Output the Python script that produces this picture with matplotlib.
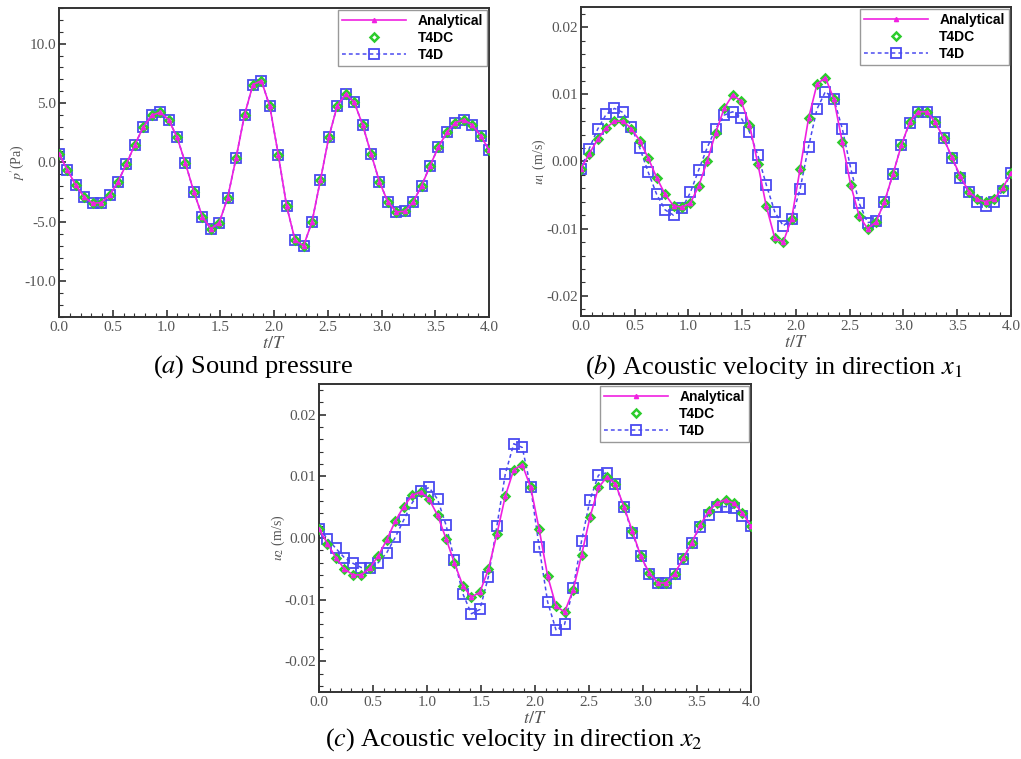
import matplotlib
matplotlib.use("Agg")
import matplotlib.pyplot as plt
from matplotlib.ticker import MultipleLocator, FormatStrFormatter
import numpy as np

plt.rcParams['font.family'] = ['Liberation Serif', 'DejaVu Serif']
plt.rcParams['mathtext.fontset'] = 'stix'
plt.rcParams['axes.unicode_minus'] = False

# sampling instants t/T
t = np.linspace(0.0, 4.0, 52)

# (a) sound pressure p' (Pa)
p_exact = [0.73, -0.64, -1.93, -2.93, -3.44, -3.38, -2.77, -1.62, -0.11, 1.51,
           2.99, 3.97, 4.22, 3.60, 2.12, -0.08, -2.49, -4.55, -5.59, -5.06,
           -2.96, 0.39, 4.00, 6.56, 6.87, 4.72, 0.67, -3.69, -6.56, -7.01,
           -5.00, -1.48, 2.15, 4.78, 5.75, 5.08, 3.18, 0.75, -1.62, -3.32,
           -4.16, -4.11, -3.32, -1.96, -0.28, 1.31, 2.54, 3.35, 3.58, 3.16,
           2.26, 1.03]
p_t4dc = p_exact
p_t4d = p_exact

# (b) acoustic velocity u1 (m/s)
u1_exact = [-0.0011, 0.0011, 0.0033, 0.0050, 0.0060, 0.0060, 0.0049, 0.0031, 0.0005, -0.0024,
            -0.0049, -0.0066, -0.0068, -0.0062, -0.0036, 0.0001, 0.0043, 0.0079, 0.0099, 0.0090,
            0.0055, -0.0004, -0.0067, -0.0114, -0.0120, -0.0085, -0.0011, 0.0064, 0.0115, 0.0125,
            0.0093, 0.0029, -0.0035, -0.0081, -0.0100, -0.0090, -0.0060, -0.0019, 0.0024, 0.0059,
            0.0074, 0.0074, 0.0059, 0.0035, 0.0006, -0.0022, -0.0045, -0.0056, -0.0060, -0.0056,
            -0.0040, -0.0017]
u1_t4dc = u1_exact
u1_t4d = [-0.0011, 0.0019, 0.0048, 0.0070, 0.0079, 0.0073, 0.0052, 0.0020, -0.0016, -0.0049,
          -0.0072, -0.0080, -0.0070, -0.0046, -0.0012, 0.0021, 0.0049, 0.0069, 0.0074, 0.0065,
          0.0044, 0.0009, -0.0035, -0.0075, -0.0096, -0.0085, -0.0041, 0.0022, 0.0078, 0.0104,
          0.0093, 0.0049, -0.0010, -0.0062, -0.0091, -0.0089, -0.0061, -0.0019, 0.0024, 0.0058,
          0.0074, 0.0074, 0.0059, 0.0035, 0.0005, -0.0024, -0.0046, -0.0061, -0.0066, -0.0060,
          -0.0044, -0.0017]

# (c) acoustic velocity u2 (m/s)
u2_exact = [0.0015, -0.0009, -0.0032, -0.0050, -0.0060, -0.0060, -0.0049, -0.0029, -0.0003, 0.0027,
            0.0051, 0.0069, 0.0075, 0.0063, 0.0037, -0.0001, -0.0041, -0.0078, -0.0096, -0.0088,
            -0.0051, 0.0006, 0.0068, 0.0111, 0.0119, 0.0082, 0.0014, -0.0062, -0.0111, -0.0120,
            -0.0085, -0.0028, 0.0034, 0.0082, 0.0099, 0.0088, 0.0051, 0.0011, -0.0030, -0.0057,
            -0.0073, -0.0073, -0.0058, -0.0033, -0.0008, 0.0021, 0.0043, 0.0057, 0.0062, 0.0056,
            0.0041, 0.0019]
u2_t4dc = u2_exact
u2_t4d = [0.0015, -0.0001, -0.0017, -0.0032, -0.0041, -0.0048, -0.0048, -0.0040, -0.0024, 0.0001,
          0.0029, 0.0057, 0.0076, 0.0082, 0.0063, 0.0021, -0.0036, -0.0091, -0.0123, -0.0116,
          -0.0063, 0.0019, 0.0104, 0.0153, 0.0147, 0.0082, -0.0015, -0.0104, -0.0150, -0.0140,
          -0.0082, -0.0005, 0.0062, 0.0102, 0.0106, 0.0087, 0.0050, 0.0008, -0.0030, -0.0058,
          -0.0073, -0.0073, -0.0058, -0.0034, -0.0008, 0.0018, 0.0038, 0.0050, 0.0051, 0.0048,
          0.0035, 0.0019]

MAGENTA = '#f020e0'
GREEN = '#2ccc2c'
BLUE = '#4a4af0'
GREY = '#555555'


def draw_panel(ax, y_exact, y_t4dc, y_t4d, ylim, major, minor, fmt, ylabel):
    l3, = ax.plot(t, y_t4d, color=BLUE, ls=(0, (2.5, 2)), lw=1.1, marker='s', ms=7.5,
                  mfc='none', mec=BLUE, mew=1.3, zorder=2)
    l2, = ax.plot(t, y_t4dc, ls='none', marker='D', ms=4.5, mfc='none', mec=GREEN,
                  mew=1.8, zorder=3)
    l1, = ax.plot(t, y_exact, color=MAGENTA, lw=1.2, marker='^', ms=3, zorder=4)

    ax.set_xlim(0, 4)
    ax.set_ylim(-ylim, ylim)
    ax.xaxis.set_major_locator(MultipleLocator(0.5))
    ax.xaxis.set_minor_locator(MultipleLocator(0.1))
    ax.xaxis.set_major_formatter(FormatStrFormatter('%.1f'))
    ax.yaxis.set_major_locator(MultipleLocator(major))
    ax.yaxis.set_minor_locator(MultipleLocator(minor))
    ax.yaxis.set_major_formatter(FormatStrFormatter(fmt))
    ax.tick_params(which='both', direction='in', colors='#333333', labelcolor=GREY,
                   labelsize=11, top=False, right=False)
    ax.tick_params(which='major', length=5, width=1.2)
    ax.tick_params(axis='x', pad=3)
    ax.tick_params(axis='y', pad=2)
    ax.tick_params(which='minor', length=3, width=0.8)
    for s in ax.spines.values():
        s.set_color('#333333')
        s.set_linewidth(1.4)

    ax.set_xlabel(r'$t/T$', fontsize=13, color=GREY)
    ax.xaxis.set_label_coords(0.5, -0.058)
    ax.set_ylabel(ylabel, fontsize=10, color=GREY)
    ax.yaxis.set_label_coords(-0.075, 0.5)

    leg = ax.legend([l1, l2, l3], ['Analytical', 'T4DC', 'T4D'], loc='upper right',
                    prop={'family': 'Liberation Sans', 'weight': 'bold', 'size': 10},
                    fancybox=False, framealpha=1, edgecolor='#999999',
                    handlelength=4.6, handletextpad=0.8, labelspacing=0.2,
                    borderpad=0.3, borderaxespad=0.15)
    leg.get_frame().set_linewidth(1.0)


fig = plt.figure(figsize=(10.21, 7.59), dpi=100)

ax_a = fig.add_axes([0.0578, 0.5824, 0.4212, 0.4071])
draw_panel(ax_a, p_exact, p_t4dc, p_t4d, 13, 5, 1, '%.1f', r"$p'$(Pa)")

ax_b = fig.add_axes([0.5688, 0.5837, 0.4214, 0.4071])
draw_panel(ax_b, u1_exact, u1_t4dc, u1_t4d, 0.023, 0.01, 0.002, '%.2f', r'$u_1$ (m/s)')

ax_c = fig.add_axes([0.3124, 0.0883, 0.4231, 0.4058])
draw_panel(ax_c, u2_exact, u2_t4dc, u2_t4d, 0.025, 0.01, 0.002, '%.2f', r'$u_2$ (m/s)')

fig.text(253 / 1021, 1 - 367 / 759, r'($a$) Sound pressure', fontsize=19,
         ha='center', va='center')
fig.text(774 / 1021, 1 - 367 / 759, r'($b$) Acoustic velocity in direction $x_1$',
         fontsize=19, ha='center', va='center')
fig.text(514 / 1021, 1 - 740 / 759, r'($c$) Acoustic velocity in direction $x_2$',
         fontsize=19, ha='center', va='center')

fig.savefig('out.png', dpi=100)
